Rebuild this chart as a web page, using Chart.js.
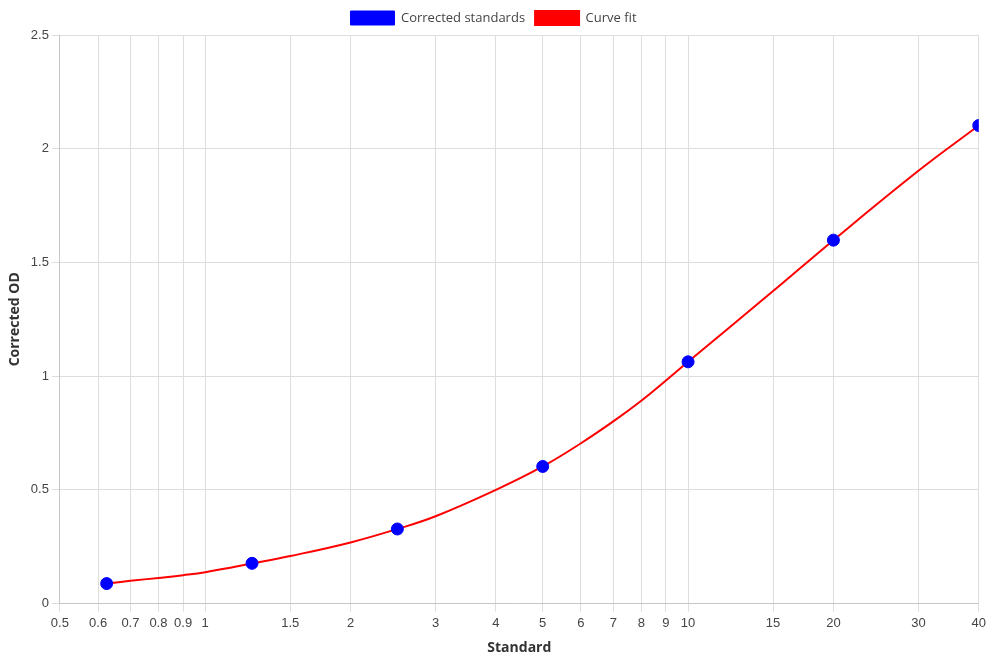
<!DOCTYPE html>
<html>
<head>
<meta charset="utf-8">
<script src="https://cdn.jsdelivr.net/npm/chart.js@4/dist/chart.umd.min.js"></script>
<style>
  html, body { margin: 0; padding: 0; background: #fff; }
  #wrap { width: 990px; height: 660px; }
</style>
</head>
<body>
<div id="wrap"><canvas id="chart" width="990" height="660"></canvas></div>
<script>
// standards and measured corrected OD
const standardX = [0.625, 1.25, 2.5, 5, 10, 20, 40];
const standardOD = [0.088, 0.177, 0.328, 0.603, 1.063, 1.598, 2.102];

// curve fit at grid positions
const fitX = [0.625, 0.7, 0.8, 0.9, 1, 1.25, 1.5, 2, 2.5, 3, 4, 5, 6, 7, 8, 9, 10, 15, 20, 30, 40];
const fitOD = [0.088, 0.100, 0.113, 0.125, 0.138, 0.176, 0.209, 0.269, 0.328, 0.384, 0.500, 0.603, 0.705, 0.801, 0.892, 0.981, 1.063, 1.374, 1.598, 1.903, 2.102];

const xTicks = [0.5, 0.6, 0.7, 0.8, 0.9, 1, 1.5, 2, 3, 4, 5, 6, 7, 8, 9, 10, 15, 20, 30, 40];

const titleFont = "'Open Sans', sans-serif";

const ctx = document.getElementById('chart').getContext('2d');
const chart = new Chart(ctx, {
    type: 'scatter',
    data: {
        datasets: [
            {
                label: 'Corrected standards',
                data: standardX.map((x, i) => ({ x: x, y: standardOD[i] })),
                backgroundColor: '#0000ff',
                borderColor: '#0000ff',
                pointRadius: 6,
                pointHoverRadius: 7,
            },
            {
                label: 'Curve fit',
                data: fitX.map((x, i) => ({ x: x, y: fitOD[i] })),
                showLine: true,
                backgroundColor: '#ff0000',
                borderColor: '#ff0000',
                borderWidth: 2,
                pointRadius: 0,
                tension: 0.4,
            },
        ],
    },
    options: {
        responsive: false,
        animation: false,
        layout: {
            padding: { left: 3, right: 6, top: 1, bottom: 0 },
        },
        plugins: {
            legend: {
                display: true,
                labels: {
                    font: { family: titleFont, size: 13 },
                    color: '#444',
                    boxWidth: 44,
                    boxHeight: 14,
                },
            },
            tooltip: { enabled: false },
        },
        scales: {
            x: {
                type: 'logarithmic',
                min: 0.5,
                max: 40,
                afterBuildTicks: (axis) => {
                    axis.ticks = xTicks.map(v => ({ value: v }));
                },
                ticks: {
                    autoSkip: false,
                    maxRotation: 0,
                    color: '#444',
                    font: { size: 13 },
                    padding: 4,
                    callback: (value) => String(value),
                },
                grid: { color: '#dddddd' },
                title: {
                    display: true,
                    text: 'Standard',
                    font: { family: titleFont, size: 14, weight: 'bold' },
                    color: '#333',
                },
            },
            y: {
                min: 0,
                max: 2.5,
                ticks: {
                    stepSize: 0.5,
                    color: '#444',
                    font: { size: 13 },
                    callback: (value) => String(value),
                },
                grid: { color: '#dddddd' },
                title: {
                    display: true,
                    text: 'Corrected OD',
                    font: { family: titleFont, size: 14, weight: 'bold' },
                    color: '#333',
                },
            },
        },
    },
});
</script>
</body>
</html>
